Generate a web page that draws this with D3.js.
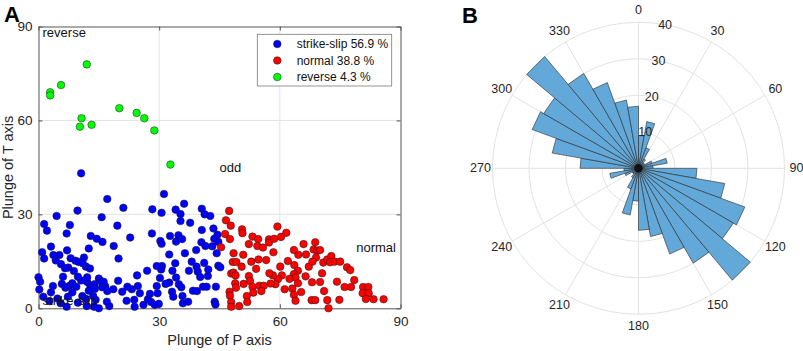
<!DOCTYPE html>
<html>
<head>
<meta charset="utf-8">
<script src="https://cdn.jsdelivr.net/npm/d3@7"></script>
<style>
  body { margin: 0; background: #fff; }
  svg { display: block; font-family: "Liberation Sans", Arial, sans-serif; }
</style>
</head>
<body>
<svg id="chart" width="803" height="351"></svg>
<script>
// Panel A data: [plunge of P, plunge of T]
const reversePts = [
  [12.0, 77.9], [5.6, 71.3], [2.9, 69.0], [2.9, 68.0], [10.7, 60.7], [10.3, 58.0],
  [13.2, 58.6], [20.1, 63.9], [24.4, 62.4], [26.3, 60.7], [28.8, 56.8], [32.8, 45.9]
];

const strikeSlipPts = [
  [10.6, 43.1], [17.1, 34.9], [31.2, 36.5], [9.7, 31.2], [4.5, 29.5], [21.1, 32.1],
  [15.7, 29.1], [28.3, 31.6], [30.6, 30.5], [34.1, 31.5], [36.2, 33.4], [35.3, 30.1],
  [40.6, 31.8], [41.3, 30.0], [42.7, 29.5], [1.4, 26.9], [2.1, 24.8], [7.8, 26.6],
  [19.6, 26.4], [37.7, 27.3], [35.3, 27.9], [40.6, 25.0], [13.0, 23.1], [14.5, 22.2],
  [15.9, 21.2], [22.8, 22.6], [18.7, 19.9], [3.1, 19.7], [7.1, 18.5], [0.9, 17.9],
  [1.4, 15.9], [5.2, 17.0], [4.3, 15.3], [5.6, 14.1], [8.0, 16.0], [9.2, 15.2],
  [10.0, 14.8], [11.3, 16.2], [11.8, 13.3], [12.8, 12.7], [7.4, 13.0], [8.8, 11.9],
  [19.9, 15.9], [30.3, 21.5], [30.6, 20.6], [32.5, 17.2], [32.7, 23.1], [34.2, 21.3],
  [34.8, 23.3], [35.7, 22.1], [39.2, 18.6], [40.5, 21.1], [41.5, 19.9], [43.2, 19.8],
  [43.7, 22.2], [44.5, 23.5], [44.7, 21.2], [38.1, 14.9], [41.2, 14.5], [42.2, 12.4],
  [44.7, 13.6], [45.2, 13.1], [30.7, 13.5], [30.5, 12.4], [33.3, 12.0], [24.5, 10.5],
  [27.0, 12.0], [30.2, 9.7], [34.2, 9.8], [32.5, 8.2], [34.9, 7.7], [31.6, 7.8],
  [37.4, 12.0], [39.6, 11.7], [40.2, 10.0], [42.1, 10.3], [38.4, 5.6], [39.4, 5.5],
  [40.9, 6.9], [44.1, 6.9], [0.0, 9.9], [6.1, 10.1], [0.2, 6.0], [3.6, 7.1],
  [5.8, 7.8], [6.7, 6.6], [7.6, 7.1], [8.4, 8.0], [9.4, 6.9], [10.6, 8.9],
  [12.1, 8.4], [12.9, 7.2], [13.9, 7.7], [15.0, 9.5], [15.3, 8.8], [16.6, 7.0],
  [17.1, 5.5], [14.0, 6.2], [12.5, 5.6], [3.1, 5.1], [1.2, 3.7], [2.7, 2.3],
  [5.5, 1.6], [7.3, 3.7], [8.4, 5.1], [9.8, 1.8], [10.9, 3.9], [12.0, 0.7],
  [13.6, 3.9], [14.2, 2.7], [13.8, 0.5], [15.0, 0.0], [17.6, 0.7], [19.8, 8.8],
  [20.8, 5.3], [21.9, 2.4], [23.2, 6.1], [23.8, 2.7], [23.9, 0.5], [24.7, 7.1],
  [25.2, 4.8], [26.1, 1.1], [27.2, 2.9], [27.7, 4.6], [28.0, 2.0], [28.9, 1.1],
  [29.6, 4.8], [29.9, 1.4], [33.2, 5.3], [33.5, 3.7], [35.8, 3.9], [35.9, 1.6],
  [43.8, 2.1], [44.0, 1.2], [3.7, 17.0], [6.6, 12.8], [11.0, 14.4], [12.1, 9.9],
  [9.8, 10.1], [15.8, 6.7], [18.6, 6.1], [16.2, 8.5], [29.4, 13.5], [34.0, 14.4],
  [29.4, 7.1], [35.5, 6.7], [37.2, 2.1], [0.4, 8.5], [4.7, 3.1], [11.8, 3.0],
  [7.0, 0.5], [17.0, 2.1], [22.1, 6.9], [41.8, 6.9], [39.3, 13.3], [36.4, 17.6],
  [44.3, 17.6], [43.5, 25.5], [28.2, 23.9], [7.0, 23.9], [12.5, 19.1]
];

const normalPts = [
  [47.4, 31.1], [46.6, 28.1], [47.8, 26.4], [46.4, 23.7], [45.4, 19.5], [47.6, 22.1],
  [50.6, 25.2], [50.7, 24.0], [48.3, 14.8], [50.9, 17.1], [52.3, 20.5], [53.2, 22.9],
  [54.6, 22.1], [54.4, 19.9], [55.8, 19.4], [57.3, 22.0], [57.3, 21.0], [58.6, 22.2],
  [59.4, 26.1], [60.3, 22.8], [61.6, 24.1], [58.4, 17.9], [60.1, 13.3], [60.5, 10.5],
  [59.5, 9.3], [58.3, 10.5], [57.4, 11.2], [58.9, 7.7], [61.2, 6.1], [54.1, 12.6],
  [52.9, 14.9], [52.3, 10.3], [52.6, 8.7], [53.2, 6.9], [53.4, 5.0], [54.9, 7.2],
  [51.0, 7.8], [51.8, 3.9], [51.9, 2.0], [48.9, 8.0], [49.1, 6.6], [47.9, 11.1],
  [48.5, 11.4], [47.5, 5.3], [47.6, 4.0], [47.9, 2.0], [47.9, 0.5], [49.9, 0.7],
  [65.9, 20.5], [66.5, 17.2], [64.6, 17.1], [63.6, 13.8], [64.5, 12.0], [63.5, 10.9],
  [63.9, 9.8], [64.5, 8.0], [63.1, 6.3], [63.5, 4.3], [63.9, 2.4], [65.3, 5.2],
  [66.4, 10.2], [68.0, 8.3], [68.8, 21.1], [68.4, 18.8], [69.3, 18.4], [70.0, 18.6],
  [69.0, 16.2], [70.0, 8.4], [67.9, 2.6], [68.8, 2.6], [70.8, 14.6], [71.8, 15.6],
  [72.8, 16.7], [72.5, 14.7], [73.6, 14.9], [75.0, 14.9], [71.0, 5.5], [71.8, 2.6],
  [72.1, 0.0], [74.8, 2.7], [76.7, 13.1], [77.5, 12.2], [76.1, 6.8], [77.7, 6.8],
  [80.7, 6.8], [82.0, 6.8], [80.6, 4.8], [82.1, 4.8], [81.4, 3.0], [83.3, 2.9],
  [85.8, 2.9], [56.0, 7.2], [56.6, 15.4], [49.2, 14.8], [49.0, 10.5], [62.0, 15.1],
  [67.2, 13.3], [54.7, 15.6], [57.7, 7.9], [68.1, 14.9], [70.5, 11.2], [50.5, 13.3],
  [55.4, 5.5], [62.4, 9.4], [74.2, 8.5], [78.5, 9.0], [48.5, 17.6], [63.5, 18.6]
];

const axisTicks = [0, 30, 60, 90];
const legendLabels = ['strike-slip 56.9 %', 'normal 38.8 %', 'reverse 4.3 %'];
const regimeNotes = [
  {text: 'reverse', x: 1, y: 88},
  {text: 'odd', x: 45, y: 45},
  {text: 'normal', x: 79, y: 19.5},
  {text: 'strike-slip', x: 1, y: 2.4}
];

// Panel B data: rose diagram, 10-degree bins starting at 0 (north), clockwise
const roseBinStarts = d3.range(0, 360, 10);
const roseCounts = [
  9, 13, 6, 3, 2, 2, 4, 8, 4, 16, 24, 31, 30, 40, 30, 25, 19, 17,
  9, 13, 6, 3, 2, 2, 4, 8, 4, 16, 24, 31, 30, 40, 30, 25, 19, 17
];
const roseRingTicks = [10, 20, 30, 40];
const roseAngleTicks = d3.range(0, 360, 30);

const svg = d3.select('#chart');

// ---------- Panel A: scatter ----------
const plot = {left: 38.5, right: 400.5, top: 26.5, bottom: 308.3};
const x = d3.scaleLinear().domain([0, 90]).range([plot.left, plot.right]);
const y = d3.scaleLinear().domain([0, 90]).range([plot.bottom, plot.top]);

const A = svg.append('g');

// grid
A.append('g')
  .selectAll('line')
  .data(axisTicks.slice(1, -1))
  .join('line')
  .attr('x1', d => x(d)).attr('x2', d => x(d))
  .attr('y1', plot.top).attr('y2', plot.bottom)
  .attr('stroke', '#e3e3e3');
A.append('g')
  .selectAll('line')
  .data(axisTicks.slice(1, -1))
  .join('line')
  .attr('y1', d => y(d)).attr('y2', d => y(d))
  .attr('x1', plot.left).attr('x2', plot.right)
  .attr('stroke', '#e3e3e3');

// axes (ticks pointing inward, box on)
const styleAxis = g => {
  g.select('.domain').attr('stroke', '#555');
  g.selectAll('.tick line').attr('stroke', '#555');
  g.selectAll('.tick text').attr('fill', '#262626').style('font-size', '13.5px');
};
A.append('g')
  .attr('transform', `translate(0,${plot.bottom})`)
  .call(d3.axisBottom(x).tickValues(axisTicks).tickSizeInner(-4).tickSizeOuter(0).tickPadding(8))
  .call(styleAxis);
A.append('g')
  .attr('transform', `translate(${plot.left},0)`)
  .call(d3.axisLeft(y).tickValues(axisTicks).tickSizeInner(-4).tickSizeOuter(0).tickPadding(6))
  .call(styleAxis);
A.append('g')
  .attr('transform', `translate(0,${plot.top})`)
  .call(d3.axisTop(x).tickValues(axisTicks).tickSizeInner(-4).tickSizeOuter(0).tickFormat(''))
  .call(styleAxis);
A.append('g')
  .attr('transform', `translate(${plot.right},0)`)
  .call(d3.axisRight(y).tickValues(axisTicks).tickSizeInner(-4).tickSizeOuter(0).tickFormat(''))
  .call(styleAxis);

// axis labels
A.append('text')
  .attr('x', (plot.left + plot.right) / 2)
  .attr('y', 345)
  .attr('text-anchor', 'middle')
  .attr('fill', '#262626')
  .style('font-size', '14.5px')
  .text('Plunge of P axis');
A.append('text')
  .attr('transform', `translate(12.5,${(plot.top + plot.bottom) / 2}) rotate(-90)`)
  .attr('text-anchor', 'middle')
  .attr('fill', '#262626')
  .style('font-size', '14.5px')
  .text('Plunge of T axis');

// points
const groups = [
  {pts: strikeSlipPts, color: '#0000ff'},
  {pts: normalPts, color: '#ff0000'},
  {pts: reversePts, color: '#00ff00'}
];
groups.forEach(grp => {
  A.append('g')
    .selectAll('circle')
    .data(grp.pts)
    .join('circle')
    .attr('cx', d => x(d[0]))
    .attr('cy', d => y(d[1]))
    .attr('r', 3.8)
    .attr('fill', grp.color)
    .attr('stroke', '#1a1a1a')
    .attr('stroke-width', 0.5);
});

// regime annotations
A.append('g')
  .selectAll('text')
  .data(regimeNotes)
  .join('text')
  .attr('x', d => x(d.x))
  .attr('y', d => y(d.y))
  .attr('dominant-baseline', 'central')
  .attr('fill', '#111')
  .style('font-size', '13px')
  .text(d => d.text);

// legend
const leg = A.append('g').attr('transform', 'translate(257.3,34.3)');
leg.append('rect')
  .attr('width', 134.4).attr('height', 51.7)
  .attr('fill', '#fff').attr('stroke', '#7a7a7a').attr('stroke-width', 0.8);
legendLabels.forEach((lab, i) => {
  const row = leg.append('g').attr('transform', `translate(0,${9.7 + i * 16.5})`);
  row.append('circle')
    .attr('cx', 20).attr('r', 3.8)
    .attr('fill', groups[i].color)
    .attr('stroke', '#1a1a1a').attr('stroke-width', 0.5);
  row.append('text')
    .attr('x', 39.4)
    .attr('dominant-baseline', 'central')
    .attr('fill', '#111')
    .style('font-size', '12px')
    .text(lab);
});

// ---------- Panel B: rose ----------
const cx = 638.5, cy = 168.3;
const r = d3.scaleLinear().domain([0, 40]).range([0, 146]);
const B = svg.append('g').attr('transform', `translate(${cx},${cy})`);
const rad = deg => deg * Math.PI / 180;

B.append('g')
  .selectAll('circle')
  .data(roseRingTicks)
  .join('circle')
  .attr('r', d => r(d))
  .attr('fill', 'none')
  .attr('stroke', '#e3e3e3');
B.append('g')
  .selectAll('line')
  .data(roseAngleTicks)
  .join('line')
  .attr('x1', 0).attr('y1', 0)
  .attr('x2', d => d3.pointRadial(rad(d), r(40))[0])
  .attr('y2', d => d3.pointRadial(rad(d), r(40))[1])
  .attr('stroke', '#e3e3e3');

// bars as straight-topped wedges
B.append('g')
  .selectAll('path')
  .data(roseBinStarts.map((a, i) => ({a, v: roseCounts[i]})))
  .join('path')
  .attr('d', d => {
    const p0 = d3.pointRadial(rad(d.a), r(d.v));
    const p1 = d3.pointRadial(rad(d.a + 10), r(d.v));
    return `M0,0L${p0[0]},${p0[1]}L${p1[0]},${p1[1]}Z`;
  })
  .attr('fill', '#62a8d9')
  .attr('stroke', '#2a2a2a')
  .attr('stroke-width', 0.6)
  .attr('stroke-linejoin', 'round');
B.append('circle').attr('r', 4.2).attr('fill', '#111');

// radial tick labels
B.append('g')
  .selectAll('text')
  .data(roseRingTicks)
  .join('text')
  .attr('x', d => d3.pointRadial(rad(10.5), r(d))[0])
  .attr('y', d => d3.pointRadial(rad(10.5), r(d))[1])
  .attr('text-anchor', 'middle')
  .attr('dominant-baseline', 'central')
  .attr('fill', '#262626')
  .style('font-size', '12.5px')
  .text(d => d);

// angle labels
B.append('g')
  .selectAll('text')
  .data(roseAngleTicks)
  .join('text')
  .attr('x', d => d3.pointRadial(rad(d), 158)[0])
  .attr('y', d => d3.pointRadial(rad(d), 158)[1])
  .attr('text-anchor', 'middle')
  .attr('dominant-baseline', 'central')
  .attr('fill', '#262626')
  .style('font-size', '12.5px')
  .text(d => d);

// panel letters
svg.append('text').attr('x', 4).attr('y', 22)
  .style('font-size', '22px').style('font-weight', 'bold').text('A');
svg.append('text').attr('x', 462).attr('y', 23)
  .style('font-size', '22px').style('font-weight', 'bold').text('B');
</script>
</body>
</html>
